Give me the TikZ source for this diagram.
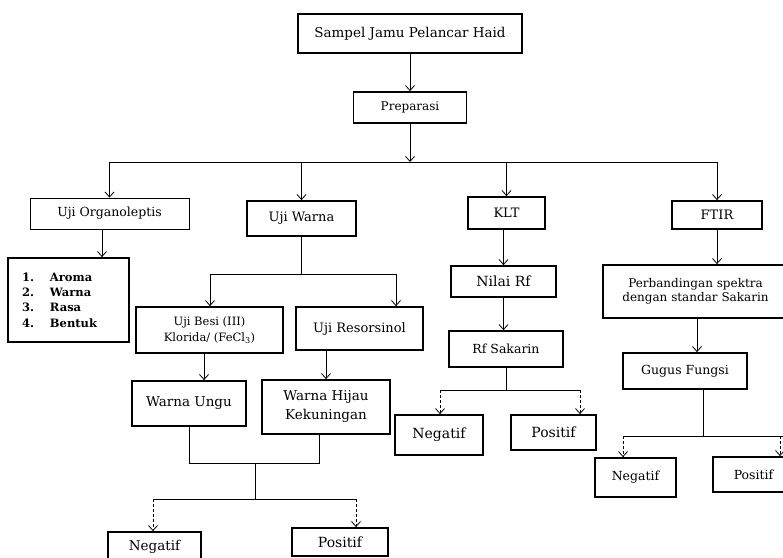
\documentclass[tikz,border=0pt]{standalone}
\usepackage{fontspec}
\setmainfont{DejaVu Serif}
\usetikzlibrary{arrows.meta}
\begin{document}
\begin{tikzpicture}[x=1pt,y=-1pt,
  fs/.style 2 args={font=\fontsize{#1}{#2}\selectfont},
  box/.style={draw,line width=1.8pt,inner sep=0pt,align=center},
  thinbox/.style={draw,line width=0.9pt,inner sep=0pt,align=center},
  conn/.style={line width=0.8pt},
  arr/.style={conn,-{Straight Barb[length=5pt,width=9pt,line width=0.8pt]}},
  darr/.style={arr,dash pattern=on 3pt off 2pt},
  ]
\useasboundingbox (0,0) rectangle (783,557);

% nodes
\node[box,fs={13.5}{16},minimum width=224,minimum height=39] (sampel) at (410,33.5) {Sampel Jamu Pelancar Haid};
\node[box,fs={12}{14},minimum width=113,minimum height=31] (prep) at (410,107.5) {Preparasi};
\node[thinbox,fs={12.5}{14},minimum width=159,minimum height=31] (uorg) at (109.5,213.5) {Uji Organoleptis};
\node[box,fs={13}{15},minimum width=109,minimum height=35] (uwarna) at (301.5,218.5) {Uji Warna};
\node[box,fs={13}{15},minimum width=77,minimum height=32] (klt) at (506.5,213) {KLT};
\node[box,fs={13}{15},minimum width=90,minimum height=28] (ftir) at (717,215) {FTIR};
\node[box,fs={11.5}{15.4},minimum width=121,minimum height=84,text width=93pt,inner xsep=14pt,align=left] (lst) at (68.5,300)
  {\bfseries\makebox[28pt][l]{1.}Aroma\\\makebox[28pt][l]{2.}Warna\\\makebox[28pt][l]{3.}Rasa\\\makebox[28pt][l]{4.}Bentuk};
\node[box,fs={11.5}{16},minimum width=147,minimum height=46] (besi) at (209.5,330) {Uji Besi (III)\\Klorida/ (FeCl\textsubscript{3})};
\node[box,fs={13}{15},minimum width=127,minimum height=43] (reso) at (359.5,328.5) {Uji Resorsinol};
\node[box,fs={13.5}{16},minimum width=114,minimum height=45] (ungu) at (189,403.5) {Warna Ungu};
\node[box,fs={13.5}{19},minimum width=128,minimum height=54] (hijau) at (326,407) {Warna Hijau\\Kekuningan};
\node[box,fs={13.5}{15},minimum width=93,minimum height=30] (neg1) at (154.5,547) {Negatif};
\node[box,fs={14}{15},minimum width=96,minimum height=28] (pos1) at (340,542) {Positif};
\node[box,fs={14}{16},minimum width=105,minimum height=31] (nilai) at (503.5,281.5) {Nilai Rf};
\node[box,fs={12.5}{15},minimum width=114,minimum height=36] (rfsak) at (506,349) {Rf Sakarin};
\node[box,fs={14}{16},minimum width=88,minimum height=40] (neg2) at (439,435) {Negatif};
\node[box,fs={14}{16},minimum width=85,minimum height=35] (pos2) at (553.5,432.5) {Positif};
\node[box,fs={12}{14},minimum width=185,minimum height=53] (perb) at (695.5,291.5) {Perbandingan spektra\\dengan standar Sakarin};
\node[box,fs={12.5}{15},minimum width=124,minimum height=36] (gugus) at (685,371) {Gugus Fungsi};
\node[box,fs={12.5}{15},minimum width=81,minimum height=39] (neg3) at (635.5,477.5) {Negatif};
\node[box,fs={12.5}{15},minimum width=81,minimum height=35] (pos3) at (753.5,474.5) {Positif};

% helper coordinates
\coordinate (j0) at (410,162);
\coordinate (c1) at (102,0);
\coordinate (wL) at (210,274);
\coordinate (wR) at (396,274);
\coordinate (c2) at (204,0);
\coordinate (mL) at (189,463);
\coordinate (mR) at (319,463);
\coordinate (m1) at (255,463);
\coordinate (dL) at (153,499);
\coordinate (dR) at (356,499);
\coordinate (kL) at (440,390);
\coordinate (kR) at (580,390);
\coordinate (c3) at (697,0);
\coordinate (c4) at (703,0);
\coordinate (fL) at (623,436);
\coordinate (fR) at (780,436);
\coordinate (fE) at (783,436);

% top
\draw[arr] (sampel) -- (prep);
\draw[arr] (prep) -- (j0);
\draw[conn] (uorg.north |- j0) -- (ftir.north |- j0);
\draw[arr] (uorg.north |- j0) -- (uorg.north);
\draw[arr] (uwarna.north |- j0) -- (uwarna.north);
\draw[arr] (klt.north |- j0) -- (klt.north);
\draw[arr] (ftir.north |- j0) -- (ftir.north);

% organoleptis
\draw[arr] (uorg.south -| c1) -- (lst.north -| c1);

% uji warna
\draw[conn] (uwarna.south) -- (uwarna.south |- wL);
\draw[conn] (wL) -- (wR);
\draw[arr] (wL) -- (wL |- besi.north);
\draw[arr] (wR) -- (wR |- reso.north);
\draw[arr] (besi.south -| c2) -- (ungu.north -| c2);
\draw[arr] (reso.south -| hijau.north) -- (hijau.north);
\draw[conn] (ungu.south -| mL) -- (mL) -- (mR) -- (hijau.south -| mR);
\draw[conn] (m1) -- (m1 |- dL);
\draw[conn] (dL) -- (dR);
\draw[darr] (dL) -- (dL |- neg1.north);
\draw[darr] (dR) -- (dR |- pos1.north);

% KLT
\draw[arr] (nilai.north |- klt.south) -- (nilai.north);
\draw[arr] (nilai.south) -- (nilai.south |- rfsak.north);
\draw[conn] (rfsak.south) -- (rfsak.south |- kL);
\draw[conn] (kL) -- (kR);
\draw[darr] (kL) -- (kL |- neg2.north);
\draw[darr] (kR) -- (kR |- pos2.north);

% FTIR
\draw[arr] (ftir.south) -- (ftir.south |- perb.north);
\draw[arr] (perb.south -| c3) -- (gugus.north -| c3);
\draw[conn] (gugus.south -| c4) -- (fL -| c4);
\draw[conn] (fL) -- (fE);
\draw[darr] (fL) -- (fL |- neg3.north);
\draw[darr] (fR) -- (fR |- pos3.north);
\end{tikzpicture}
\end{document}
